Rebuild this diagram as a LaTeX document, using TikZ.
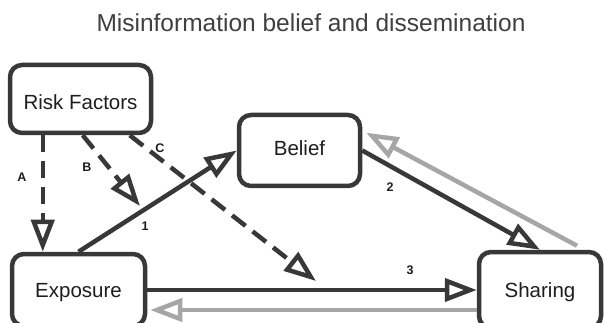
\documentclass[tikz,border=0pt]{standalone}
\usepackage{fontspec}
\setmainfont{Liberation Sans}
\usetikzlibrary{arrows.meta,calc}
\definecolor{dk}{HTML}{383838}
\definecolor{gr}{HTML}{A6A6A6}
\definecolor{tx}{HTML}{1E1E1E}
\begin{document}
\begin{tikzpicture}[x=1pt,y=-1pt,
  box/.style={draw=dk, line width=4.5pt, rounded corners=12pt, fill=white,
    font=\fontsize{20.5}{24}\selectfont, text=tx, inner sep=0pt,
    text height=14.7pt, text depth=0pt},
  conn/.style={draw=dk, line width=4.5pt, -{Triangle[open,length=32pt,width=23pt]}},
  dashconn/.style={conn, dash pattern=on 17pt off 9pt},
  grayconn/.style={conn, draw=gr},
  lab/.style={font=\fontsize{12.5}{14}\selectfont\bfseries, text=tx, inner sep=0pt}]
\useasboundingbox (0,0) rectangle (605,323);
\clip (0,0) rectangle (605,323);
\fill[white] (0,0) rectangle (605,323);
\node[font=\fontsize{24.5}{28}\selectfont, text=tx!85] (title) at (311,23) {Misinformation belief and dissemination};
\node[box, minimum width=141pt, minimum height=68pt, text height=21.7pt] (rf) at (80.5,99) {Risk Factors};
\node[box, minimum width=121pt, minimum height=71pt, text depth=4pt] (bel) at (299.5,150.5) {Belief};
\node[box, minimum width=133pt, minimum height=72pt] (ex) at (78.5,290) {Exposure};
\node[box, minimum width=122pt, minimum height=76pt] (sh) at (540,290) {Sharing};
\coordinate (bend) at (140,206);
\coordinate (cend) at (316,281);
% dashed risk factor arrows
\draw[dashconn] ([xshift=35pt]rf.south west) -- ([xshift=33pt]ex.north west);
\draw[dashconn] ([xshift=75pt]rf.south west) -- (bend);
\draw[dashconn] ([xshift=122pt]rf.south west) -- (cend);
% solid paths
\draw[conn] (ex.north) -- (bel.west);
\draw[conn] (bel.east) -- (sh.north);
\draw[conn] (ex.east) -- (sh.west);
% gray feedback
\draw[grayconn] ([xshift=37pt,yshift=4pt]sh.north) -- ([xshift=4pt,yshift=-20pt]bel.north east);
\draw[grayconn] ([yshift=-20pt]sh.west) -- ([xshift=3pt,yshift=-20pt]ex.east);
% labels
\node[lab] (la) at (22,177) {A};
\node[lab] (lb) at (87,167) {B};
\node[lab] (lc) at (160,148) {C};
\node[lab] (l1) at (145,226) {1};
\node[lab] (l2) at (390,187) {2};
\node[lab] (l3) at (410,270) {3};
\end{tikzpicture}
\end{document}
